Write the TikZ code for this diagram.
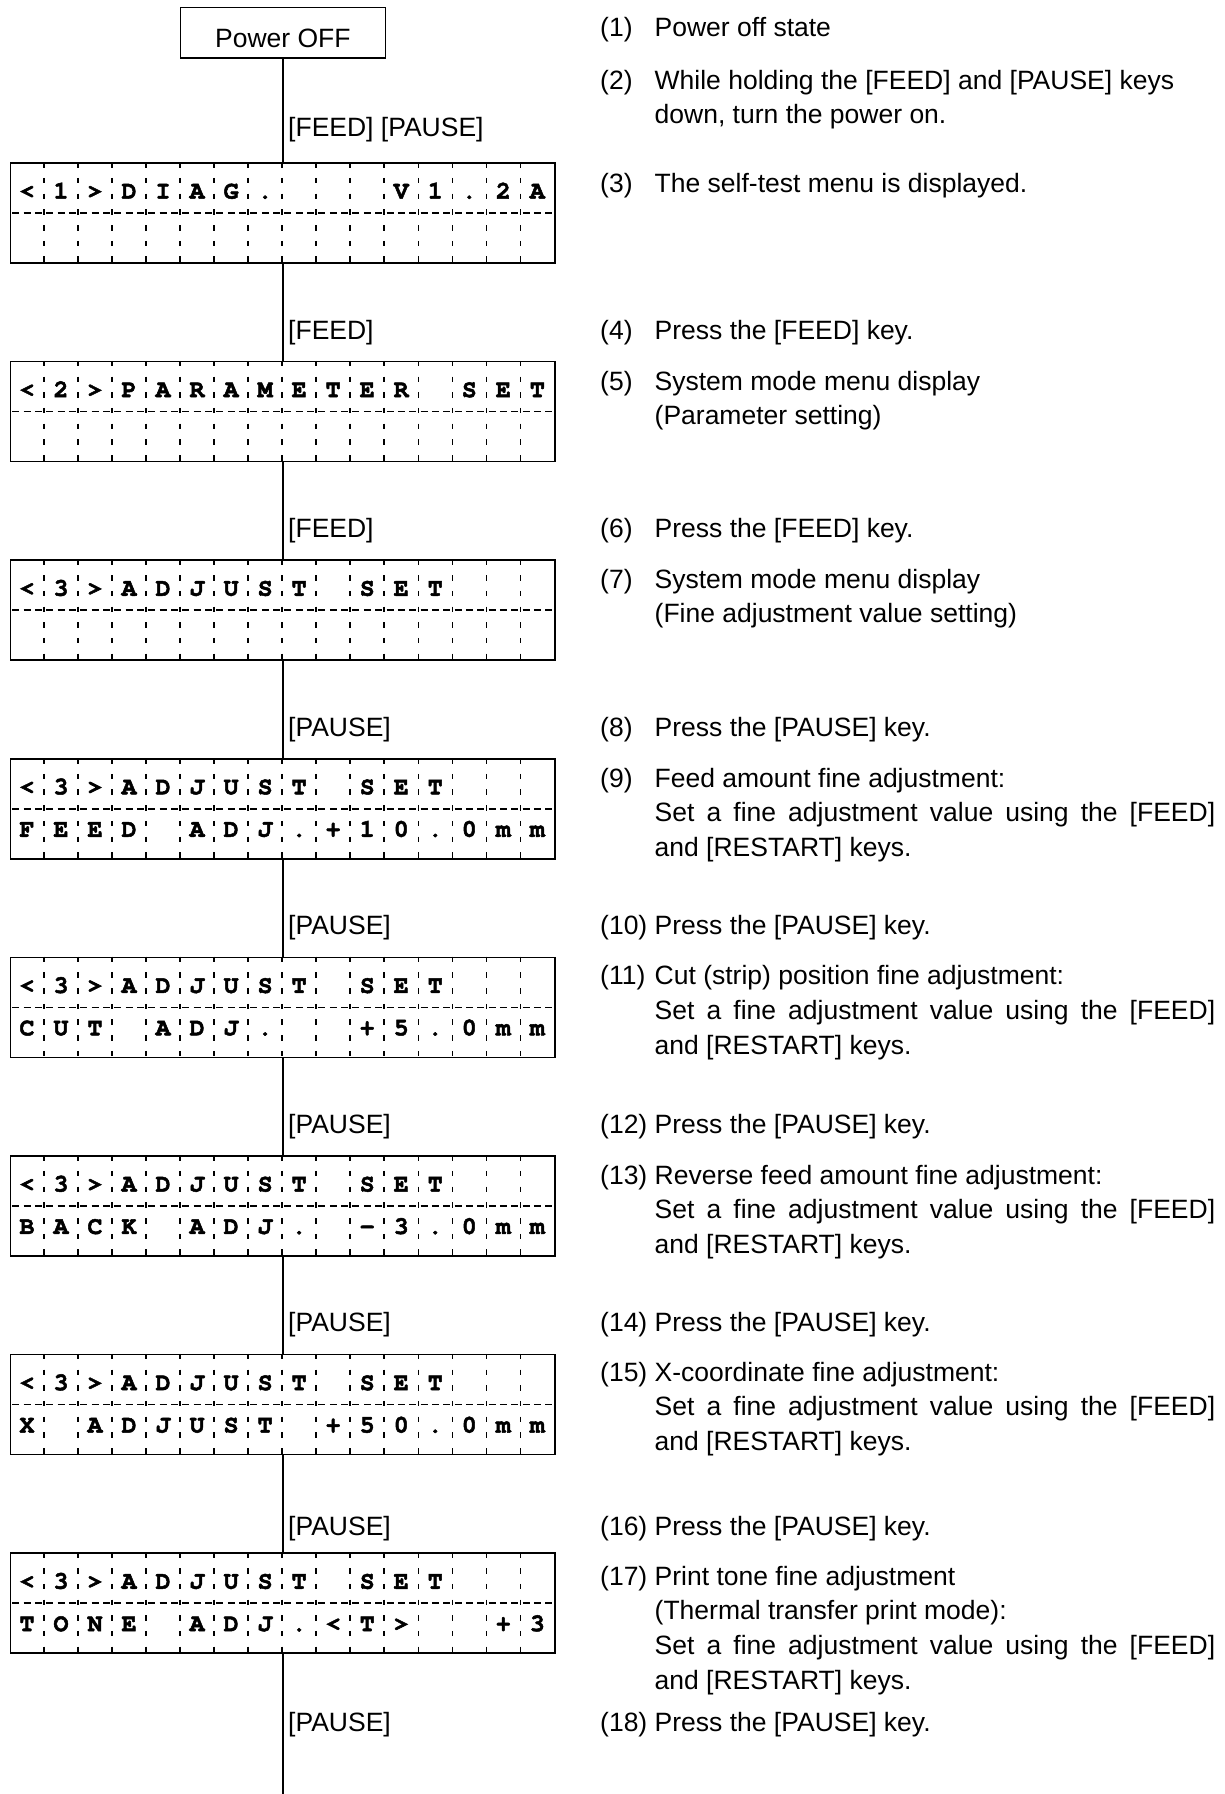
\documentclass[tikz,border=0pt]{standalone}
\usepackage[T1]{fontenc}
\usepackage{fontspec}
\setmainfont{Liberation Sans}
\usetikzlibrary{positioning}
\tolerance=10000
\tikzset{
  panel/.style={draw, line width=1.5pt, inner sep=0pt},
  lcdbox/.style={panel, minimum width=544.4pt, minimum height=100pt},
  cellline/.style={line width=1.5pt, dash pattern=on 5.5pt off 10.2pt},
  rowline/.style={line width=1.5pt, dash pattern=on 7pt off 4.34pt, dash phase=9pt},
  link/.style={line width=1.2pt},
  txt/.style={font=\fontsize{26.5}{34.8}\selectfont, inner sep=0pt, anchor=base west},
  itemtext/.style={txt, text width=560.5pt, align=justify},
  lcdchar/.style={font=\fontencoding{T1}\fontfamily{pcr}\fontseries{b}\fontsize{25}{26}\selectfont, inner sep=0pt, anchor=base},
}
% heavier strokes for the display glyphs
\newcommand\heavy[1]{\special{pdf:literal direct 2 Tr 0.5 w}#1\special{pdf:literal direct 0 Tr}}
% one row of the display, 16 cells
\newcommand\lcdrow[3]{%
  \foreach \lc [count=\k from 0] in {#3}{%
    \ifx\lc\empty\else
      \node[lcdchar] at ([xshift=\k*34.025pt+17.01pt,yshift=-#2pt]#1.north west) {\heavy{\lc}};
    \fi}}
\newcommand\lcd[4]{%
  \node[lcdbox] (#1) at (282.9,#2) {};
  \foreach \k in {1,...,15}
    \draw[cellline] ([xshift=\k*34.025pt]#1.north west) -- ([xshift=\k*34.025pt]#1.south west);
  \draw[rowline] (#1.west) -- (#1.east);
  \lcdrow{#1}{36.3}{#3}
  \lcdrow{#1}{78.7}{#4}}

\begin{document}
\begin{tikzpicture}[x=1pt, y=-1pt]
\useasboundingbox (0,0) rectangle (1225,1794);
\node[panel, minimum width=205pt, minimum height=50.5pt, font=\fontsize{26.5}{34.8}\selectfont, text height=29pt, text depth=0pt] (power) at (282.9,32.5) {Power OFF};
\lcd{lcd1}{213}{<,1,>,D,I,A,G,.,{},{},{},V,1,.,2,A}{}
\lcd{lcd2}{411.6}{<,2,>,P,A,R,A,M,E,T,E,R,{},S,E,T}{}
\lcd{lcd3}{610.2}{<,3,>,A,D,J,U,S,T,{},S,E,T,{},{},{}}{}
\lcd{lcd4}{808.8}{<,3,>,A,D,J,U,S,T,{},S,E,T,{},{},{}}{F,E,E,D,{},A,D,J,.,+,1,0,.,0,m,m}
\lcd{lcd5}{1007.4}{<,3,>,A,D,J,U,S,T,{},S,E,T,{},{},{}}{C,U,T,{},A,D,J,.,{},{},+,5,.,0,m,m}
\lcd{lcd6}{1206}{<,3,>,A,D,J,U,S,T,{},S,E,T,{},{},{}}{B,A,C,K,{},A,D,J,.,{},-,3,.,0,m,m}
\lcd{lcd7}{1404.6}{<,3,>,A,D,J,U,S,T,{},S,E,T,{},{},{}}{X,{},A,D,J,U,S,T,{},+,5,0,.,0,m,m}
\lcd{lcd8}{1603.2}{<,3,>,A,D,J,U,S,T,{},S,E,T,{},{},{}}{T,O,N,E,{},A,D,J,.,<,T,>,{},{},+,3}
\coordinate (tail) at (282.9,1794);

\draw[link] (power.south) -- (lcd1.north);
\foreach \a/\b in {lcd1/lcd2,lcd2/lcd3,lcd3/lcd4,lcd4/lcd5,lcd5/lcd6,lcd6/lcd7,lcd7/lcd8}
  \draw[link] (\a.south) -- (\b.north);
\draw[link] (lcd8.south) -- (tail);

% keys pressed
\node[txt] (key1) at (288,136) {[FEED] [PAUSE]};
\node[txt] (key2) at (288,339.5) {[FEED]};
\node[txt] (key3) at (288,537) {[FEED]};
\node[txt] (key4) at (288,736) {[PAUSE]};
\node[txt] (key5) at (288,934) {[PAUSE]};
\node[txt] (key6) at (288,1133) {[PAUSE]};
\node[txt] (key7) at (288,1331) {[PAUSE]};
\node[txt] (key8) at (288,1535) {[PAUSE]};
\node[txt] (key9) at (288,1731.5) {[PAUSE]};

% explanations
\node[txt] (n1) at (600,36.5) {(1)};
\node[itemtext] (t1) at (654.5,36.5) {Power off state};
\node[txt] (n2) at (600,89) {(2)};
\node[itemtext] (t2) at (654.5,89) {While holding the [FEED] and [PAUSE] keys\par down, turn the power on.};
\node[txt] (n3) at (600,192) {(3)};
\node[itemtext] (t3) at (654.5,192) {The self-test menu is displayed.};
\node[txt] (n4) at (600,339.5) {(4)};
\node[itemtext] (t4) at (654.5,339.5) {Press the [FEED] key.};
\node[txt] (n5) at (600,390) {(5)};
\node[itemtext] (t5) at (654.5,390) {System mode menu display\par (Parameter setting)};
\node[txt] (n6) at (600,537) {(6)};
\node[itemtext] (t6) at (654.5,537) {Press the [FEED] key.};
\node[txt] (n7) at (600,588) {(7)};
\node[itemtext] (t7) at (654.5,588) {System mode menu display\par (Fine adjustment value setting)};
\node[txt] (n8) at (600,736) {(8)};
\node[itemtext] (t8) at (654.5,736) {Press the [PAUSE] key.};
\node[txt] (n9) at (600,787) {(9)};
\node[itemtext] (t9) at (654.5,787) {Feed amount fine adjustment:\par Set a fine adjustment value using the [FEED]\linebreak and [RESTART] keys.};
\node[txt] (n10) at (600,934) {(10)};
\node[itemtext] (t10) at (654.5,934) {Press the [PAUSE] key.};
\node[txt] (n11) at (600,984.6) {(11)};
\node[itemtext] (t11) at (654.5,984.6) {Cut (strip) position fine adjustment:\par Set a fine adjustment value using the [FEED]\linebreak and [RESTART] keys.};
\node[txt] (n12) at (600,1133) {(12)};
\node[itemtext] (t12) at (654.5,1133) {Press the [PAUSE] key.};
\node[txt] (n13) at (600,1184) {(13)};
\node[itemtext] (t13) at (654.5,1184) {Reverse feed amount fine adjustment:\par Set a fine adjustment value using the [FEED]\linebreak and [RESTART] keys.};
\node[txt] (n14) at (600,1331) {(14)};
\node[itemtext] (t14) at (654.5,1331) {Press the [PAUSE] key.};
\node[txt] (n15) at (600,1381) {(15)};
\node[itemtext] (t15) at (654.5,1381) {X-coordinate fine adjustment:\par Set a fine adjustment value using the [FEED]\linebreak and [RESTART] keys.};
\node[txt] (n16) at (600,1535) {(16)};
\node[itemtext] (t16) at (654.5,1535) {Press the [PAUSE] key.};
\node[txt] (n17) at (600,1585) {(17)};
\node[itemtext] (t17) at (654.5,1585) {Print tone fine adjustment\par (Thermal transfer print mode):\par Set a fine adjustment value using the [FEED]\linebreak and [RESTART] keys.};
\node[txt] (n18) at (600,1731.5) {(18)};
\node[itemtext] (t18) at (654.5,1731.5) {Press the [PAUSE] key.};
\end{tikzpicture}
\end{document}
